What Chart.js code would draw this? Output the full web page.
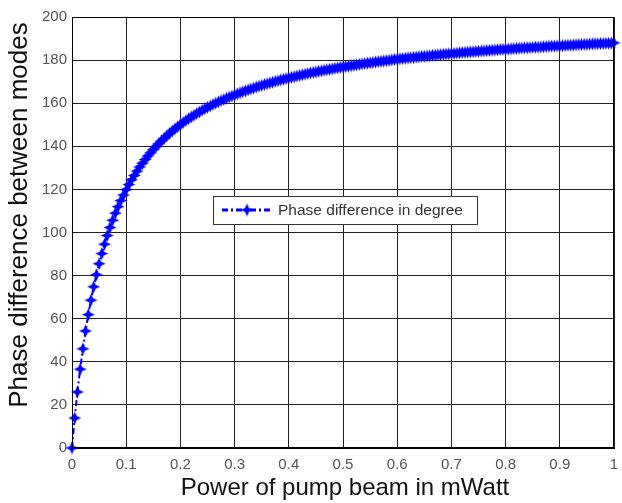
<!DOCTYPE html>
<html>
<head>
<meta charset="utf-8">
<script src="https://cdn.jsdelivr.net/npm/chart.js"></script>
<style>
  html, body { margin: 0; padding: 0; background: #fff; }
</style>
</head>
<body>
<canvas id="grafico" width="622" height="503"></canvas>
<script>
// potencia del haz de bombeo (mW) y diferencia de fase (grados)
const potencia = [0, 0.005, 0.01, 0.015, 0.02, 0.025, 0.03, 0.035, 0.04, 0.045,
  0.05, 0.055, 0.06, 0.065, 0.07, 0.075, 0.08, 0.085, 0.09, 0.095,
  0.1, 0.105, 0.11, 0.115, 0.12, 0.125, 0.13, 0.135, 0.14, 0.145,
  0.15, 0.155, 0.16, 0.165, 0.17, 0.175, 0.18, 0.185, 0.19, 0.195,
  0.2, 0.205, 0.21, 0.215, 0.22, 0.225, 0.23, 0.235, 0.24, 0.245,
  0.25, 0.255, 0.26, 0.265, 0.27, 0.275, 0.28, 0.285, 0.29, 0.295,
  0.3, 0.305, 0.31, 0.315, 0.32, 0.325, 0.33, 0.335, 0.34, 0.345,
  0.35, 0.355, 0.36, 0.365, 0.37, 0.375, 0.38, 0.385, 0.39, 0.395,
  0.4, 0.405, 0.41, 0.415, 0.42, 0.425, 0.43, 0.435, 0.44, 0.445,
  0.45, 0.455, 0.46, 0.465, 0.47, 0.475, 0.48, 0.485, 0.49, 0.495,
  0.5, 0.505, 0.51, 0.515, 0.52, 0.525, 0.53, 0.535, 0.54, 0.545,
  0.55, 0.555, 0.56, 0.565, 0.57, 0.575, 0.58, 0.585, 0.59, 0.595,
  0.6, 0.605, 0.61, 0.615, 0.62, 0.625, 0.63, 0.635, 0.64, 0.645,
  0.65, 0.655, 0.66, 0.665, 0.67, 0.675, 0.68, 0.685, 0.69, 0.695,
  0.7, 0.705, 0.71, 0.715, 0.72, 0.725, 0.73, 0.735, 0.74, 0.745,
  0.75, 0.755, 0.76, 0.765, 0.77, 0.775, 0.78, 0.785, 0.79, 0.795,
  0.8, 0.805, 0.81, 0.815, 0.82, 0.825, 0.83, 0.835, 0.84, 0.845,
  0.85, 0.855, 0.86, 0.865, 0.87, 0.875, 0.88, 0.885, 0.89, 0.895,
  0.9, 0.905, 0.91, 0.915, 0.92, 0.925, 0.93, 0.935, 0.94, 0.945,
  0.95, 0.955, 0.96, 0.965, 0.97, 0.975, 0.98, 0.985, 0.99, 0.995,
  1.0];

const fase = [0, 13.9, 26.0, 36.6, 46.0, 54.3, 61.9, 68.6, 74.8, 80.4,
  85.5, 90.2, 94.6, 98.6, 102.3, 105.7, 109.0, 112.0, 114.8, 117.4,
  119.9, 122.3, 124.5, 126.5, 128.5, 130.4, 132.2, 133.9, 135.5, 137.0,
  138.5, 139.9, 141.2, 142.5, 143.7, 144.9, 146.0, 147.1, 148.1, 149.1,
  150.1, 151.0, 151.9, 152.8, 153.6, 154.4, 155.2, 155.9, 156.7, 157.4,
  158.1, 158.7, 159.4, 160.0, 160.6, 161.2, 161.7, 162.3, 162.8, 163.3,
  163.8, 164.3, 164.8, 165.3, 165.7, 166.2, 166.6, 167.0, 167.5, 167.9,
  168.3, 168.7, 169.0, 169.4, 169.7, 170.1, 170.4, 170.8, 171.1, 171.4,
  171.7, 172.0, 172.3, 172.6, 172.9, 173.2, 173.5, 173.8, 174.0, 174.3,
  174.5, 174.8, 175.0, 175.3, 175.5, 175.7, 175.9, 176.2, 176.4, 176.6,
  176.8, 177.0, 177.2, 177.4, 177.6, 177.8, 178.0, 178.2, 178.4, 178.6,
  178.7, 178.9, 179.1, 179.3, 179.4, 179.6, 179.7, 179.9, 180.1, 180.3,
  180.4, 180.6, 180.7, 180.9, 181.0, 181.1, 181.2, 181.4, 181.5, 181.7,
  181.8, 181.9, 182.0, 182.2, 182.3, 182.4, 182.5, 182.7, 182.8, 182.9,
  183.0, 183.1, 183.2, 183.4, 183.5, 183.6, 183.7, 183.8, 183.9, 184.0,
  184.1, 184.2, 184.3, 184.4, 184.5, 184.6, 184.7, 184.8, 184.9, 185.0,
  185.0, 185.1, 185.2, 185.3, 185.4, 185.5, 185.6, 185.7, 185.7, 185.8,
  185.9, 186.0, 186.0, 186.1, 186.2, 186.3, 186.4, 186.5, 186.5, 186.6,
  186.6, 186.7, 186.8, 186.9, 186.9, 187.0, 187.1, 187.2, 187.2, 187.3,
  187.3, 187.4, 187.5, 187.6, 187.6, 187.7, 187.7, 187.8, 187.8, 187.9,
  188.0];

const tituloX = 'Power of pump beam in mWatt';
const tituloY = 'Phase difference between modes';
const etiqueta = 'Phase difference in degree';

const AZUL = '#0000ff';
const FUENTE = "'Liberation Sans', Arial, sans-serif";

// marcador: estrella de cuatro puntas rellena
function crearEstrella(r) {
  const c = document.createElement('canvas');
  c.width = c.height = Math.ceil(2 * r + 2);
  const g = c.getContext('2d');
  const m = c.width / 2, k = r * 0.3;
  g.fillStyle = AZUL;
  g.beginPath();
  g.moveTo(m, m - r); g.lineTo(m + k, m - k); g.lineTo(m + r, m); g.lineTo(m + k, m + k);
  g.lineTo(m, m + r); g.lineTo(m - k, m + k); g.lineTo(m - r, m); g.lineTo(m - k, m - k);
  g.closePath();
  g.fill();
  return c;
}
const estrella = crearEstrella(6.5);

const extras = {
  id: 'extras',
  afterDraw(chart) {
    const ctx = chart.ctx;
    const a = chart.chartArea;
    ctx.save();
    // borde del área
    ctx.strokeStyle = '#000';
    ctx.lineWidth = 1;
    ctx.strokeRect(a.left + 0.5, a.top + 0.5, a.right - a.left - 1, a.bottom - a.top - 1);

    // títulos de ejes
    ctx.fillStyle = '#111';
    ctx.textAlign = 'center';
    ctx.textBaseline = 'middle';
    ctx.font = '24px ' + FUENTE;
    ctx.fillText(tituloX, 345, 488);
    ctx.translate(20, 215);
    ctx.rotate(-Math.PI / 2);
    ctx.font = '26px ' + FUENTE;
    ctx.fillText(tituloY, 0, 0);
    ctx.restore();

    // leyenda dentro del área
    ctx.save();
    const bx = 213, by = 196, bw = 264, bh = 28;
    ctx.fillStyle = '#fff';
    ctx.fillRect(bx, by, bw, bh);
    ctx.strokeStyle = '#333';
    ctx.lineWidth = 1;
    ctx.strokeRect(bx + 0.5, by + 0.5, bw, bh);
    const cy = by + bh / 2;
    ctx.strokeStyle = AZUL;
    ctx.lineWidth = 3;
    ctx.setLineDash([6, 3, 2, 3]);
    ctx.beginPath();
    ctx.moveTo(222, cy);
    ctx.lineTo(272, cy);
    ctx.stroke();
    ctx.setLineDash([]);
    ctx.drawImage(estrella, 247 - estrella.width / 2, cy - estrella.height / 2);
    ctx.fillStyle = '#333';
    ctx.font = '15.5px ' + FUENTE;
    ctx.textAlign = 'left';
    ctx.textBaseline = 'middle';
    ctx.fillText(chart.data.datasets[0].label, 278, cy + 1);
    ctx.restore();
  }
};

const ctx = document.getElementById('grafico').getContext('2d');
new Chart(ctx, {
  type: 'line',
  data: {
    datasets: [{
      label: etiqueta,
      data: potencia.map((p, i) => ({ x: p, y: fase[i] })),
      borderColor: AZUL,
      borderWidth: 2,
      borderDash: [6, 3, 2, 3],
      pointStyle: estrella,
      pointRadius: 6,
      pointBackgroundColor: AZUL,
      pointBorderColor: AZUL,
      tension: 0,
      clip: false
    }]
  },
  options: {
    responsive: false,
    animation: false,
    layout: { padding: { top: 17, right: 2, left: 0, bottom: 0 } },
    plugins: { legend: { display: false }, tooltip: { enabled: false } },
    scales: {
      x: {
        type: 'linear',
        min: 0, max: 1,
        afterFit(s) { s.height = 55; s.paddingLeft = 0; s.paddingRight = 0; },
        grid: { color: '#222', lineWidth: 1, drawTicks: false },
        border: { color: '#000', width: 1 },
        ticks: {
          stepSize: 0.1,
          padding: 8,
          maxRotation: 0,
          autoSkip: false,
          color: '#555',
          font: { family: FUENTE, size: 15 },
          callback: v => String(+v.toFixed(1))
        }
      },
      y: {
        min: 0, max: 200,
        afterFit(s) { s.width = 72; s.paddingTop = 0; s.paddingBottom = 0; },
        grid: { color: '#222', lineWidth: 1, drawTicks: false },
        border: { color: '#000', width: 1 },
        ticks: {
          stepSize: 20,
          padding: 5,
          color: '#555',
          font: { family: FUENTE, size: 15 }
        }
      }
    }
  },
  plugins: [extras]
});
</script>
</body>
</html>
